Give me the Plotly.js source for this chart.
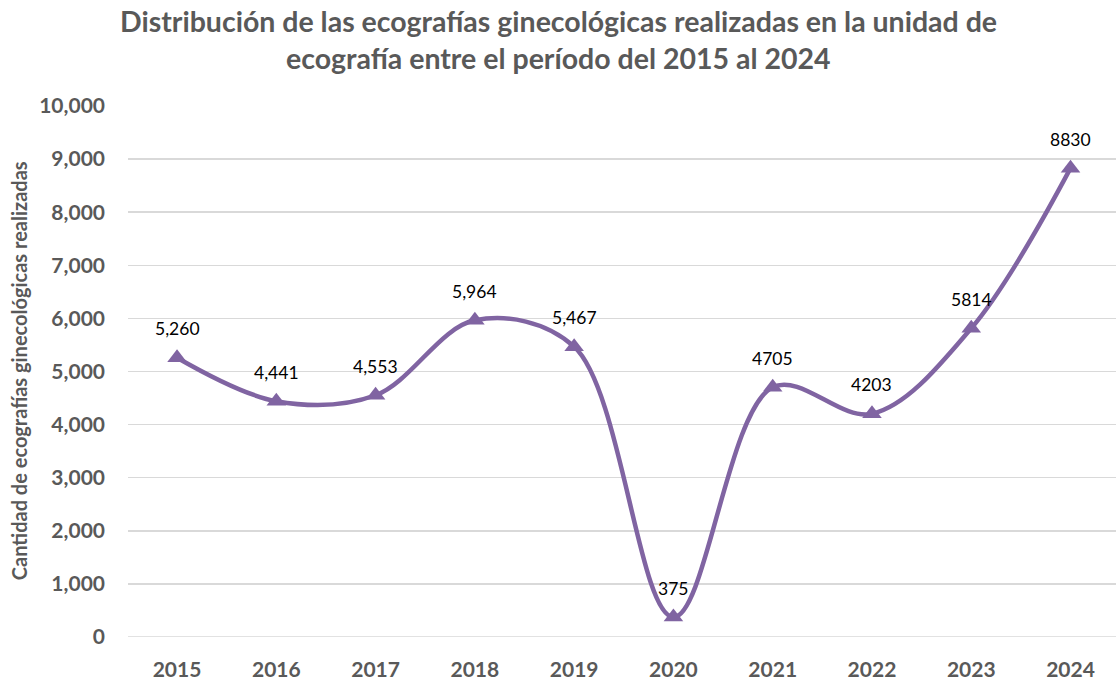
<!DOCTYPE html>
<html>
<head>
<meta charset="utf-8">
<script src="https://cdn.plot.ly/plotly-3.0.1.min.js"></script>
<style>html,body{margin:0;padding:0;background:#fff;}#chart{width:1116px;height:686px;}</style>
</head>
<body>
<div id="chart"></div>
<script>
var years = ["2015","2016","2017","2018","2019","2020","2021","2022","2023","2024"];
var values = [5260, 4441, 4553, 5964, 5467, 375, 4705, 4203, 5814, 8830];
var labels = ["5,260","4,441","4,553","5,964","5,467","375","4705","4203","5814","8830"];
var yTickVals = [0,1000,2000,3000,4000,5000,6000,7000,8000,9000,10000];
var yTickText = ["0","1,000","2,000","3,000","4,000","5,000","6,000","7,000","8,000","9,000","10,000"];
var titleLines = ["Distribución de las ecografías ginecológicas realizadas en la unidad de", "ecografía entre el período del 2015 al 2024"];

var FONT = "Lato, 'Open Sans', sans-serif";
var trace = {
  type: "scatter",
  mode: "lines+markers",
  x: years,
  y: values,
  line: {shape: "spline", smoothing: 1, color: "#8064A2", width: 4.5},
  marker: {symbol: "triangle-up", size: 17, color: "#8064A2"},
  cliponaxis: false,
  hoverinfo: "skip"
};
var annotations = [];
for (var i = 0; i < years.length; i++) {
  annotations.push({
    x: i, y: values[i], xref: "x", yref: "y",
    text: labels[i], showarrow: false, yshift: 29,
    font: {family: FONT, size: 17.5, color: "#000000"}
  });
}
var titleY = [686 - 21, 686 - 58];
for (var j = 0; j < titleLines.length; j++) {
  annotations.push({
    xref: "paper", yref: "paper",
    x: (558 - 128) / 988, y: (titleY[j] - 48.5) / 531.5,
    xanchor: "center", yanchor: "middle",
    text: "<b>" + titleLines[j] + "</b>", showarrow: false,
    font: {family: FONT, size: 28.5, color: "#595959"}
  });
}
annotations.push({
  xref: "paper", yref: "paper",
  x: (18.5 - 128) / 988, y: (686 - 371 - 48.5) / 531.5,
  xanchor: "center", yanchor: "middle", textangle: -90,
  text: "<b>Cantidad de ecografías ginecológicas realizadas</b>", showarrow: false,
  font: {family: FONT, size: 20, color: "#595959"}
});

var layout = {
  width: 1116, height: 686,
  margin: {l: 128, r: 0, t: 106, b: 48.5},
  paper_bgcolor: "#ffffff", plot_bgcolor: "#ffffff",
  showlegend: false,
  xaxis: {
    type: "category",
    range: [-0.494, 9.458],
    showgrid: false, zeroline: false, showline: false,
    ticks: "",
    tickfont: {family: FONT, size: 21, color: "#595959", weight: "bold"},
    ticklabelstandoff: 18
  },
  yaxis: {
    range: [0, 10000],
    tickvals: yTickVals, ticktext: yTickText,
    showgrid: true, gridcolor: "#D9D9D9", gridwidth: 1.5,
    zeroline: false, showline: false, ticks: "",
    tickfont: {family: FONT, size: 21, color: "#595959", weight: "bold"},
    ticklabelstandoff: 22
  },
  annotations: annotations,
  shapes: [{type: "line", xref: "paper", yref: "y", x0: 0, x1: 1, y0: 0, y1: 0, line: {color: "#D9D9D9", width: 1.5}, layer: "below"}]
};
Plotly.newPlot("chart", [trace], layout, {staticPlot: true, displayModeBar: false});
</script>
</body>
</html>
